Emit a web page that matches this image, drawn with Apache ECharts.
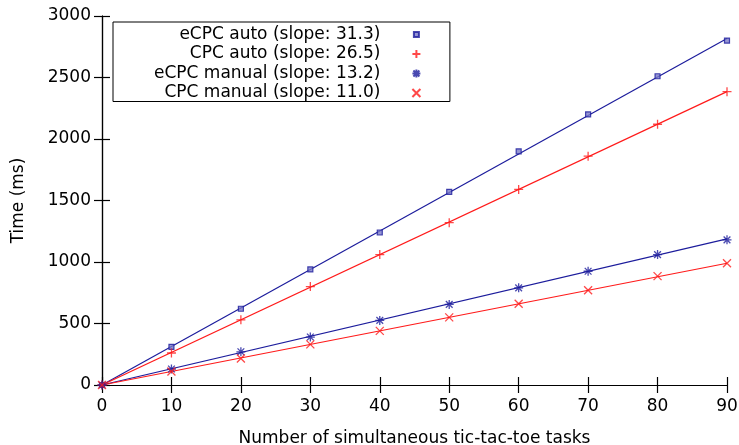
<!DOCTYPE html>
<html>
<head>
<meta charset="utf-8">
<script src="https://cdn.jsdelivr.net/npm/echarts@6/dist/echarts.min.js"></script>
<style>html,body{margin:0;padding:0;background:#fff}#c{width:739px;height:445px}</style>
</head>
<body>
<div id="c"></div>
<script>
const xValues = [0, 10, 20, 30, 40, 50, 60, 70, 80, 90];
const ecpcAuto = [0, 310, 620, 940, 1240, 1570, 1900, 2200, 2510, 2800];
const cpcAuto = [0, 260, 530, 800, 1060, 1320, 1590, 1860, 2120, 2385];
const ecpcManual = [0, 130, 270, 390, 525, 655, 790, 925, 1060, 1180];
const cpcManual = [0, 110, 215, 330, 440, 550, 660, 770, 885, 990];
const slopes = [31.3, 26.5, 13.2, 11.0];
const names = ['eCPC auto (slope: 31.3)', 'CPC auto (slope: 26.5)', 'eCPC manual (slope: 13.2)', 'CPC manual (slope: 11.0)'];
const xTicks = [0, 10, 20, 30, 40, 50, 60, 70, 80, 90];
const yTicks = [0, 500, 1000, 1500, 2000, 2500, 3000];

const BLUE = '#1c1c9c';
const RED = '#ff1a1a';
const FONT = 'DejaVu Sans';
const FS = 17;
const seriesData = [ecpcAuto, cpcAuto, ecpcManual, cpcManual];
const colors = [BLUE, RED, BLUE, RED];
const symbols = [
  'rect',
  'path://M0,-1L0,1M-1,0L1,0',
  'path://M-1,0L1,0M0,-1L0,1M-0.75,-0.75L0.75,0.75M-0.75,0.75L0.75,-0.75',
  'path://M-1,-1L1,1M-1,1L1,-1'
];
const legendIcons = [
  'path://M-4,-4M4,4M-2.5,-2.5L2.5,-2.5L2.5,2.5L-2.5,2.5Z',
  symbols[1], symbols[2], symbols[3]
];
const sizes = [5, 9, 9, 8];

const series = [];
seriesData.forEach((d, i) => {
  const xmin = xValues[0], xmax = xValues[xValues.length - 1];
  series.push({
    type: 'line', silent: true, symbol: 'none', z: 2,
    lineStyle: { color: colors[i], width: 1.2 },
    data: [[xmin, slopes[i] * xmin], [xmax, slopes[i] * xmax]]
  });
});
seriesData.forEach((d, i) => {
  const isRect = i === 0;
  series.push({
    type: 'scatter', name: names[i], z: 3,
    symbol: symbols[i], symbolSize: sizes[i],
    itemStyle: isRect
      ? { color: '#7a7ac8', borderColor: colors[i], borderWidth: 1.2 }
      : { color: 'none', borderColor: colors[i], borderWidth: 1.3 },
    data: xValues.map((x, j) => [x, d[j]])
  });
});

const chart = echarts.init(document.getElementById('c'), null, { renderer: 'canvas' });
const axisCommon = {
  axisLine: { show: true, lineStyle: { color: '#000', width: 1.2 } },
  axisTick: { show: true, inside: true, length: 8, lineStyle: { color: '#000', width: 1.2 } },
  splitLine: { show: false }
};
chart.setOption({
  animation: false,
  backgroundColor: '#fff',
  textStyle: { fontFamily: FONT },
  grid: { left: 102, right: 12, top: 16, bottom: 60, containLabel: false, outerBoundsMode: 'none' },
  legend: {
    orient: 'vertical', left: 113, top: 22,
    align: 'right',
    itemGap: 2.5, itemWidth: 8, itemHeight: 8,
    padding: [4, 27, 0, 41],
    borderColor: '#000', borderWidth: 1,
    backgroundColor: '#fff',
    textStyle: {
      fontFamily: FONT, fontSize: FS, color: '#000', padding: [0, 27, 0, 0]
    },
    selectedMode: false,
    data: names.map((n, i) => ({ name: n, icon: legendIcons[i] }))
  },
  xAxis: [
    Object.assign({
      type: 'value', min: 0, max: 90, interval: 10,
      name: 'Number of simultaneous tic-tac-toe tasks', nameLocation: 'middle', nameGap: 45,
      nameTextStyle: { fontFamily: FONT, fontSize: FS, color: '#000' },
      axisLabel: { fontFamily: FONT, fontSize: FS, color: '#000', margin: 13 }
    }, axisCommon),
    Object.assign({
      type: 'value', min: 0, max: 90, interval: 10, position: 'top',
      axisLabel: { show: false }
    }, axisCommon)
  ],
  yAxis: [
    Object.assign({
      type: 'value', min: 0, max: 3000, interval: 500,
      name: 'Time (ms)', nameLocation: 'middle', nameGap: 75,
      nameTextStyle: { fontFamily: FONT, fontSize: FS, color: '#000' },
      axisLabel: { fontFamily: FONT, fontSize: FS, color: '#000', margin: 11, formatter: v => String(v) }
    }, axisCommon),
    Object.assign({
      type: 'value', min: 0, max: 3000, interval: 500, position: 'right',
      axisLabel: { show: false }
    }, axisCommon)
  ],
  series: series
});
</script>
</body>
</html>
